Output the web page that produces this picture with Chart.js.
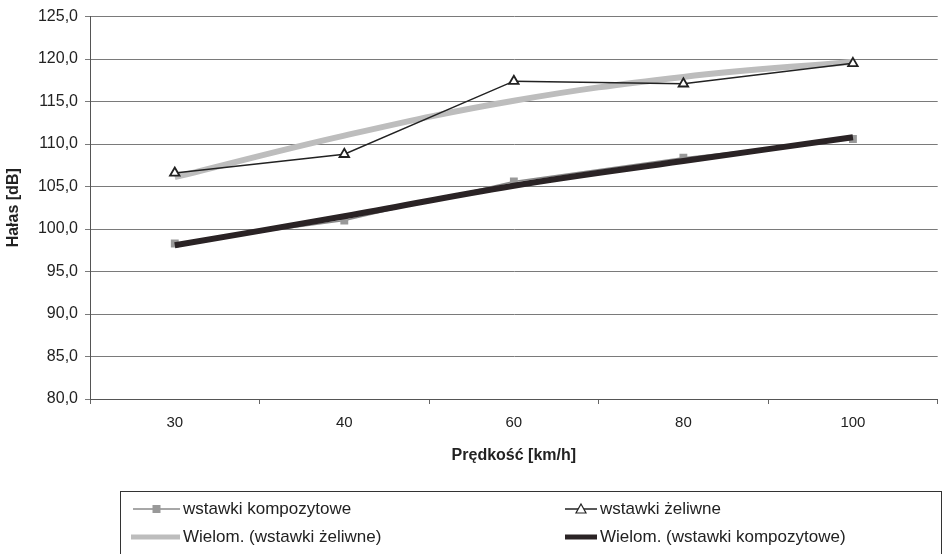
<!DOCTYPE html>
<html>
<head>
<meta charset="utf-8">
<script src="https://cdn.jsdelivr.net/npm/chart.js@4.4.1/dist/chart.umd.min.js"></script>
<style>
  html, body { margin: 0; padding: 0; background: #fff; }
  #wrap { width: 945px; height: 554px; }
</style>
</head>
<body>
<div id="wrap"><canvas id="chart" width="945" height="554"></canvas></div>
<script>
// predkosc [km/h]
const speeds = ['30', '40', '60', '80', '100']
// halas [dB]
const kompozytowe = [98.3, 101.0, 105.6, 108.4, 110.6]
const zeliwne = [106.6, 108.8, 117.4, 117.1, 119.5]
// trend lines (Wielom.) as drawn
const trendZeliwne = [106.1, 111.0, 115.1, 117.9, 119.7]
const trendKompozytowe = [98.1, 101.5, 105.1, 108.0, 110.8]

const FONT = "'Liberation Sans', Arial, sans-serif"
const TXT = '#222'

// 2x2 boxed legend like the Excel one
const boxLegend = {
  id: 'boxLegend',
  afterDraw(chart) {
    const ctx = chart.ctx
    const ds = chart.data.datasets
    ctx.save()
    ctx.strokeStyle = '#333'
    ctx.lineWidth = 1
    ctx.strokeRect(120.5, 491.5, 821, 80)

    const items = [
      { d: ds[0], x0: 133, x1: 180, tx: 183, y: 509 },
      { d: ds[1], x0: 565, x1: 597, tx: 600, y: 509 },
      { d: ds[2], x0: 131, x1: 180, tx: 183, y: 537 },
      { d: ds[3], x0: 565, x1: 597, tx: 600, y: 537 }
    ]
    items.forEach(it => {
      ctx.strokeStyle = it.d.borderColor
      ctx.lineWidth = it.d.legendWidth || it.d.borderWidth
      ctx.beginPath()
      ctx.moveTo(it.x0, it.y)
      ctx.lineTo(it.x1, it.y)
      ctx.stroke()
      if (it.d.pointRadius > 0) {
        const cx = (it.x0 + it.x1) / 2
        ctx.fillStyle = it.d.pointBackgroundColor
        ctx.strokeStyle = it.d.pointBorderColor
        ctx.lineWidth = 1.2
        if (it.d.pointStyle === 'rect') {
          ctx.fillRect(cx - 4, it.y - 4, 8, 8)
        } else {
          ctx.beginPath()
          ctx.moveTo(cx, it.y - 5)
          ctx.lineTo(cx + 5, it.y + 4)
          ctx.lineTo(cx - 5, it.y + 4)
          ctx.closePath()
          ctx.fill()
          ctx.stroke()
        }
      }
      ctx.fillStyle = TXT
      ctx.font = '17px ' + FONT
      ctx.textBaseline = 'middle'
      ctx.textAlign = 'left'
      ctx.fillText(it.d.label, it.tx, it.y)
    })
    ctx.restore()
  }
}

// eslint-disable-next-line no-unused-vars
const lineChart = new Chart(document.getElementById('chart'), {
  type: 'line',
  data: {
    labels: speeds,
    datasets: [
      {
        label: 'wstawki kompozytowe',
        data: kompozytowe,
        borderColor: '#8a8a8a',
        borderWidth: 1.5,
        pointStyle: 'rect',
        pointRadius: 4.5,
        pointBackgroundColor: '#999',
        pointBorderColor: '#999',
        order: 4
      },
      {
        label: 'wstawki żeliwne',
        data: zeliwne,
        borderColor: '#222',
        borderWidth: 1.5,
        pointStyle: 'triangle',
        pointRadius: 5.5,
        pointBackgroundColor: '#fff',
        pointBorderColor: '#222',
        pointBorderWidth: 1.8,
        order: 1
      },
      {
        label: 'Wielom. (wstawki żeliwne)',
        data: trendZeliwne,
        borderColor: '#bdbdbd',
        borderWidth: 6,
        legendWidth: 5,
        pointRadius: 0,
        tension: 0.4,
        order: 2
      },
      {
        label: 'Wielom. (wstawki kompozytowe)',
        data: trendKompozytowe,
        borderColor: '#2a2325',
        borderWidth: 6,
        legendWidth: 5,
        pointRadius: 0,
        tension: 0.4,
        order: 3
      }
    ]
  },
  options: {
    responsive: false,
    animation: false,
    layout: { padding: { left: 0, right: 2, top: 15, bottom: 85 } },
    plugins: {
      legend: { display: false },
      tooltip: { enabled: false }
    },
    scales: {
      x: {
        offset: true,
        afterFit: s => { s.height = 70 },
        grid: {
          offset: true,
          drawOnChartArea: false,
          drawTicks: true,
          tickLength: 5,
          color: '#666'
        },
        border: { color: '#555', width: 1 },
        ticks: { color: TXT, font: { family: FONT, size: 15 }, padding: 10 },
        title: {
          display: true,
          text: 'Prędkość [km/h]',
          color: TXT,
          font: { family: FONT, size: 16, weight: 'bold' },
          padding: { top: 17 }
        }
      },
      y: {
        min: 80,
        max: 125,
        afterFit: s => { s.width = 90 },
        grid: { color: '#7a7a7a', tickLength: 5 },
        border: { color: '#555', width: 1 },
        ticks: {
          stepSize: 5,
          color: TXT,
          font: { family: FONT, size: 16 },
          padding: 7,
          callback: v => v.toFixed(1).replace('.', ',')
        },
        title: {
          display: true,
          text: 'Hałas [dB]',
          color: TXT,
          font: { family: FONT, size: 16, weight: 'bold' },
          padding: { bottom: 0 }
        }
      }
    }
  },
  plugins: [boxLegend]
})
</script>
</body>
</html>
